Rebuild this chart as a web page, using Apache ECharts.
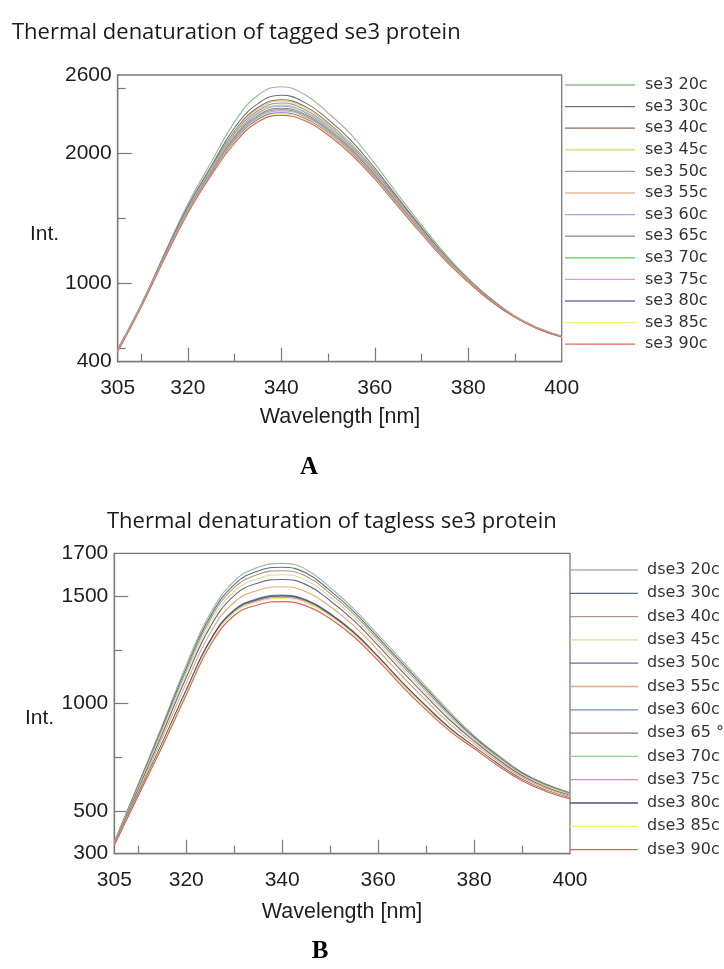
<!DOCTYPE html>
<html><head><meta charset="utf-8">
<script src="https://cdn.jsdelivr.net/npm/echarts@6/dist/echarts.min.js"></script>
<style>html,body{margin:0;padding:0;background:#fff}#c{width:724px;height:969px}</style>
</head><body><div id="c"></div>
<script>
// ---------- Data ----------
var wavelengths = [305,310,315,320,325,330,335,340,345,350,355,360,365,370,375,380,385,390,395,400];

// Chart A: tagged se3 protein
var namesA = ['se3 20c','se3 30c','se3 40c','se3 45c','se3 50c','se3 55c','se3 60c','se3 65c','se3 70c','se3 75c','se3 80c','se3 85c','se3 90c'];
var se3_20 = [500,840,1230,1610,1930,2240,2445,2510,2450,2310,2140,1920,1680,1450,1230,1040,880,750,660,595];
var se3_30 = [495,834,1220,1590,1900,2195,2380,2445,2390,2260,2095,1885,1655,1430,1215,1030,875,745,655,595];
var se3_40 = [490,831,1210,1580,1885,2170,2350,2410,2360,2235,2070,1865,1640,1420,1210,1025,870,745,655,590];
var se3_45 = [488,830,1205,1572,1878,2160,2338,2400,2352,2226,2066,1858,1634,1414,1206,1024,868,744,654,591];
var se3_50 = [489,829,1207,1570,1873,2150,2326,2385,2336,2213,2055,1852,1629,1410,1202,1023,869,744,654,592];
var se3_55 = [487,827,1204,1565,1866,2138,2312,2369,2322,2201,2044,1843,1622,1405,1198,1021,867,744,654,592];
var se3_60 = [486,826,1203,1562,1862,2131,2304,2360,2314,2194,2038,1838,1619,1402,1196,1020,866,743,653,592];
var se3_65 = [485,825,1200,1558,1855,2120,2290,2345,2300,2183,2028,1830,1613,1398,1193,1018,865,743,653,591];
var se3_70 = [484,824,1198,1554,1850,2111,2280,2334,2290,2174,2020,1824,1608,1394,1190,1016,864,742,652,591];
var se3_75 = [483,823,1196,1551,1846,2104,2272,2325,2282,2167,2014,1819,1604,1391,1188,1015,863,742,652,591];
var se3_80 = [482,822,1194,1546,1839,2092,2258,2310,2268,2155,2004,1811,1598,1386,1185,1013,862,741,651,590];
var se3_85 = [481,821,1192,1544,1835,2086,2250,2301,2260,2149,1998,1806,1595,1384,1183,1012,861,741,651,590];
var se3_90 = [480,820,1190,1540,1830,2077,2240,2290,2250,2140,1990,1800,1590,1380,1180,1010,860,740,650,590];
var valuesA = [se3_20,se3_30,se3_40,se3_45,se3_50,se3_55,se3_60,se3_65,se3_70,se3_75,se3_80,se3_85,se3_90];
var colorsA = ['#8fbc8f','#6e6e8e','#8b6b5b','#cdd86a','#9898b8','#e8b898','#98acd8','#a07f7f','#5cc85c','#d89ad8','#7474b4','#f0f070','#d86868'];

// Chart B: tagless se3 protein
var namesB = ['dse3 20c','dse3 30c','dse3 40c','dse3 45c','dse3 50c','dse3 55c','dse3 60c','dse3 65 °c','dse3 70c','dse3 75c','dse3 80c','dse3 85c','dse3 90c'];
var dse3_20 = [355,625,900,1180,1420,1570,1635,1653,1625,1540,1440,1320,1200,1080,960,850,760,680,625,585];
var dse3_30 = [354,620,890,1166,1405,1554,1618,1635,1608,1526,1427,1308,1188,1069,951,844,755,676,622,582];
var dse3_40 = [352,615,881,1153,1392,1540,1602,1619,1593,1513,1415,1297,1177,1059,943,839,751,672,618,579];
var dse3_45 = [351,609,870,1138,1375,1522,1583,1600,1574,1497,1401,1284,1164,1047,933,832,745,668,615,576];
var dse3_50 = [349,602,858,1121,1357,1503,1562,1578,1554,1479,1385,1270,1150,1034,922,825,739,663,610,572];
var dse3_55 = [346,591,839,1095,1329,1472,1528,1544,1521,1452,1361,1247,1127,1013,905,813,730,656,604,567];
var dse3_60 = [343,579,817,1064,1296,1437,1490,1505,1484,1420,1332,1220,1100,989,885,800,719,647,596,560];
var dse3_65 = [342,578,814,1060,1291,1432,1485,1500,1479,1415,1328,1217,1097,985,883,798,717,646,595,559];
var dse3_70 = [342,577,812,1057,1288,1429,1481,1496,1475,1412,1326,1214,1094,983,881,797,716,645,594,559];
var dse3_75 = [342,576,810,1054,1285,1426,1478,1493,1472,1410,1323,1212,1092,981,879,796,715,644,594,558];
var dse3_80 = [342,578,815,1061,1293,1434,1486,1502,1481,1417,1330,1218,1098,987,884,799,718,646,595,560];
var dse3_85 = [341,574,808,1051,1282,1423,1474,1489,1469,1407,1320,1210,1090,979,877,795,714,643,593,557];
var dse3_90 = [340,570,800,1040,1270,1410,1460,1475,1455,1395,1310,1200,1080,970,870,790,710,640,590,555];
var valuesB = [dse3_20,dse3_30,dse3_40,dse3_45,dse3_50,dse3_55,dse3_60,dse3_65,dse3_70,dse3_75,dse3_80,dse3_85,dse3_90];
var colorsB = ['#9cbc9c','#5e6e80','#a8988a','#d8dc90','#6c6c90','#e8a878','#7090b8','#8c7088','#88d888','#d888b8','#505088','#f0f078','#d86060'];

// Axis ticks / labels
var xLabels = [305,320,340,360,380,400];
var xMajorTicks = [320,340,360,380];
var xMinorTicks = [310,330,350,370,390];
var yLabelsA = [400,1000,2000,2600];
var yMajorA = [1000,2000];
var yMinorA = [500,1500,2500];
var yLabelsB = [300,500,1000,1500,1700];
var yMajorB = [500,1000,1500];
var yMinorB = [750,1250];

// ---------- Chart ----------
var chart = echarts.init(document.getElementById('c'), null, {renderer:'canvas'});
var axisColor = '#7a7a7a';
var labelFont = {fontFamily:'Liberation Sans, Arial, sans-serif', fontSize:21, color:'#1e1e1e'};
function plain(v){ return String(v); }

function xAxes(grid){
  return [
    {type:'value', gridIndex:grid, min:305, max:400,
     axisLine:{show:true, lineStyle:{color:axisColor, width:1.3}},
     axisTick:{show:true, inside:true, length:14, customValues:xMajorTicks, lineStyle:{color:axisColor, width:1.2}},
     axisLabel:Object.assign({show:true, margin:16, customValues:xLabels, formatter:plain}, labelFont),
     splitLine:{show:false}},
    {type:'value', gridIndex:grid, min:305, max:400, position:'bottom',
     axisLine:{show:false},
     axisTick:{show:true, inside:true, length:8, customValues:xMinorTicks, lineStyle:{color:axisColor, width:1.2}},
     axisLabel:{show:false}, splitLine:{show:false}}
  ];
}
function yAxes(grid, mn, mx, labels, major, minor){
  return [
    {type:'value', gridIndex:grid, min:mn, max:mx,
     axisLine:{show:true, lineStyle:{color:axisColor, width:1.3}},
     axisTick:{show:true, inside:true, length:14, customValues:major, lineStyle:{color:axisColor, width:1.2}},
     axisLabel:Object.assign({show:true, margin:6, customValues:labels, formatter:plain}, labelFont),
     splitLine:{show:false}},
    {type:'value', gridIndex:grid, min:mn, max:mx, position:'left',
     axisLine:{show:false},
     axisTick:{show:true, inside:true, length:8, customValues:minor, lineStyle:{color:axisColor, width:1.2}},
     axisLabel:{show:false}, splitLine:{show:false}}
  ];
}

var series = [];
function addSeries(names, values, colors, xi, yi){
  for (var i=0;i<names.length;i++){
    var pts = [];
    for (var j=0;j<wavelengths.length;j++) pts.push([wavelengths[j], values[i][j]]);
    series.push({type:'line', name:names[i], xAxisIndex:xi, yAxisIndex:yi, data:pts,
      symbol:'none', smooth:0.45, silent:true, animation:false,
      lineStyle:{color:colors[i], width:1.1}, itemStyle:{color:colors[i]}});
  }
}
addSeries(namesA, valuesA, colorsA, 0, 0);
addSeries(namesB, valuesB, colorsB, 2, 2);

var legendText = {fontFamily:'DejaVu Sans, sans-serif', fontSize:16, color:'#333', lineHeight:15, padding:[0,0,0,5]};

chart.setOption({
  animation:false,
  backgroundColor:'#fff',
  grid:[
    {left:117.7, top:75, width:444, height:286.7, show:true, borderColor:axisColor, borderWidth:1.3, containLabel:false},
    {left:114.3, top:553.3, width:455.7, height:300.4, show:true, borderColor:axisColor, borderWidth:1.3, containLabel:false}
  ],
  xAxis: xAxes(0).concat(xAxes(1)),
  yAxis: yAxes(0,400,2600,yLabelsA,yMajorA,yMinorA).concat(yAxes(1,300,1700,yLabelsB,yMajorB,yMinorB)),
  legend:[
    {data:namesA, orient:'vertical', left:560, top:72, icon:'rect', itemWidth:70, itemHeight:1.3, itemGap:5.6,
     selectedMode:false, textStyle:legendText},
    {data:namesB, orient:'vertical', left:565, top:557, icon:'rect', itemWidth:68, itemHeight:1.3, itemGap:7.3,
     selectedMode:false, textStyle:Object.assign({}, legendText, {padding:[0,0,0,4]})}
  ],
  graphic:[
    {type:'text', left:12, top:22, style:{text:'Thermal denaturation of tagged se3 protein', font:'22px "Open Sans", sans-serif', fill:'#1a1a1a'}},
    {type:'text', left:107, top:511, style:{text:'Thermal denaturation of tagless se3 protein', font:'22px "Open Sans", sans-serif', fill:'#1a1a1a'}},
    {type:'text', left:30, top:224, style:{text:'Int.', font:'21px "Liberation Sans", Arial, sans-serif', fill:'#1e1e1e'}},
    {type:'text', left:25, top:708, style:{text:'Int.', font:'21px "Liberation Sans", Arial, sans-serif', fill:'#1e1e1e'}},
    {type:'text', x:340, y:417, style:{text:'Wavelength [nm]', font:'21.5px "Liberation Sans", Arial, sans-serif', fill:'#1e1e1e', textAlign:'center', textVerticalAlign:'middle'}},
    {type:'text', x:342, y:912, style:{text:'Wavelength [nm]', font:'21.5px "Liberation Sans", Arial, sans-serif', fill:'#1e1e1e', textAlign:'center', textVerticalAlign:'middle'}},
    {type:'text', x:309, y:468, style:{text:'A', font:'bold 25px "Liberation Serif", "Times New Roman", serif', fill:'#000', textAlign:'center', textVerticalAlign:'middle'}},
    {type:'text', x:320, y:952, style:{text:'B', font:'bold 25px "Liberation Serif", "Times New Roman", serif', fill:'#000', textAlign:'center', textVerticalAlign:'middle'}}
  ],
  series: series
});
</script>
</body></html>
